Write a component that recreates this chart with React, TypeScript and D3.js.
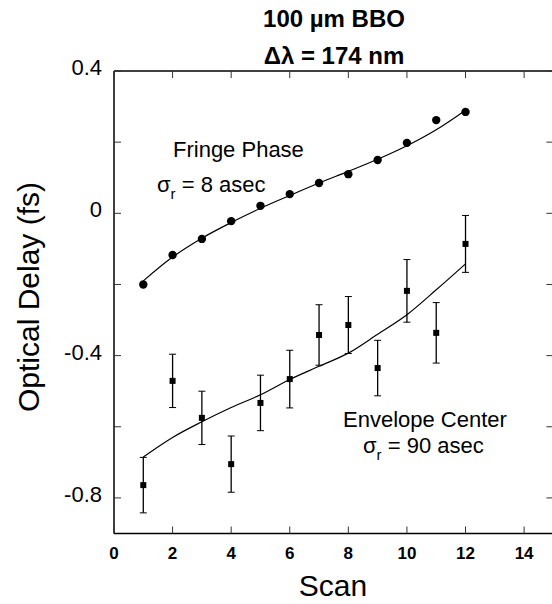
import React from "react";
import * as d3 from "d3";

const scans = [1, 2, 3, 4, 5, 6, 7, 8, 9, 10, 11, 12];
const fringePhase = [-0.2, -0.117, -0.072, -0.022, 0.021, 0.054, 0.085, 0.11, 0.15, 0.198, 0.262, 0.285];
const fringeFit = [-0.19, -0.123, -0.07, -0.026, 0.014, 0.05, 0.085, 0.118, 0.152, 0.19, 0.235, 0.29];
const envelopeCenter = [-0.764, -0.471, -0.575, -0.705, -0.533, -0.466, -0.342, -0.314, -0.435, -0.218, -0.336, -0.086];
const envelopeErr = [0.078, 0.075, 0.075, 0.079, 0.078, 0.081, 0.085, 0.08, 0.078, 0.088, 0.085, 0.08];
const envelopeFit = [-0.685, -0.63, -0.586, -0.546, -0.51, -0.467, -0.43, -0.393, -0.34, -0.285, -0.215, -0.142];
const xTicks = [0, 2, 4, 6, 8, 10, 12, 14];
const yTicks = [0.4, 0.2, 0, -0.2, -0.4, -0.6, -0.8];
const yLabelTicks = [0.4, 0, -0.4, -0.8];
const yLabelText = ["0.4", "0", "-0.4", "-0.8"];

const W = 552;
const H = 604;
const left = 114, right = 553.4, top = 71, bottom = 533.5;
const FONT = "'Liberation Sans', Arial, Helvetica, sans-serif";

export default function App() {
  const x = d3.scaleLinear().domain([0, 15]).range([left, right]);
  const y = d3.scaleLinear().domain([-0.9, 0.4]).range([bottom, top]);
  const line = d3
    .line<[number, number]>()
    .x((d) => x(d[0]))
    .y((d) => y(d[1]))
    .curve(d3.curveCatmullRom.alpha(0.5));
  const fringeFitPath = line(scans.map((s, i) => [s, fringeFit[i]]) as [number, number][]) || "";
  const envFitPath = line(scans.map((s, i) => [s, envelopeFit[i]]) as [number, number][]) || "";
  const tick = 7;

  return (
    <svg
      width={W}
      height={H}
      style={{ position: "absolute", left: 0, top: 0, background: "#fff" }}
      fontFamily={FONT}
    >
      <rect x={0} y={0} width={W} height={H} fill="#fff" />
      {/* title */}
      <text x={334} y={27} textAnchor="middle" fontSize={24} fontWeight="bold">
        100 µm BBO
      </text>
      <text x={334} y={64} textAnchor="middle" fontSize={24} fontWeight="bold">
        Δλ = 174 nm
      </text>
      {/* frame */}
      <g stroke="#000" strokeWidth={1.5} fill="none">
        <line x1={left} y1={top} x2={right} y2={top} />
        <line x1={left} y1={bottom} x2={right} y2={bottom} />
        <line x1={left} y1={top} x2={left} y2={bottom} />
        <line x1={right} y1={top} x2={right} y2={bottom} />
      </g>
      {/* ticks */}
      <g stroke="#333" strokeWidth={1}>
        {xTicks.map((t) => (
          <g key={"xt" + t}>
            <line x1={x(t)} x2={x(t)} y1={bottom} y2={bottom - tick} />
            <line x1={x(t)} x2={x(t)} y1={top} y2={top + tick} />
          </g>
        ))}
        {yTicks.map((t) => (
          <g key={"yt" + t}>
            <line x1={left} x2={left + tick} y1={y(t)} y2={y(t)} />
            <line x1={right} x2={right - tick} y1={y(t)} y2={y(t)} />
          </g>
        ))}
      </g>
      {/* tick labels */}
      {xTicks.map((t) => (
        <text key={"xl" + t} x={x(t)} y={559} textAnchor="middle" fontSize={17} fontWeight="bold">
          {t}
        </text>
      ))}
      {yLabelTicks.map((t, i) => (
        <text key={"yl" + t} x={102} y={y(t) + 4} textAnchor="end" fontSize={22}>
          {yLabelText[i]}
        </text>
      ))}
      {/* axis titles */}
      <text x={333} y={596} textAnchor="middle" fontSize={30}>
        Scan
      </text>
      <text
        transform={`translate(39, 297) rotate(-90)`}
        textAnchor="middle"
        fontSize={30}
      >
        Optical Delay (fs)
      </text>
      {/* fits */}
      <path d={fringeFitPath} fill="none" stroke="#000" strokeWidth={1.2} />
      <path d={envFitPath} fill="none" stroke="#000" strokeWidth={1.2} />
      {/* fringe points */}
      {scans.map((s, i) => (
        <circle key={"fp" + s} cx={x(s)} cy={y(fringePhase[i])} r={4.2} fill="#000" />
      ))}
      {/* envelope error bars & points */}
      {scans.map((s, i) => {
        const cx = x(s);
        const y1 = y(envelopeCenter[i] + envelopeErr[i]);
        const y2 = y(envelopeCenter[i] - envelopeErr[i]);
        return (
          <g key={"ec" + s}>
            <g stroke="#000" strokeWidth={1.3}>
              <line x1={cx} x2={cx} y1={y1} y2={y2} />
              <line x1={cx - 3.5} x2={cx + 3.5} y1={y1} y2={y1} strokeWidth={1} />
              <line x1={cx - 3.5} x2={cx + 3.5} y1={y2} y2={y2} strokeWidth={1} />
            </g>
            <rect x={cx - 3} y={y(envelopeCenter[i]) - 3} width={6} height={6} fill="#000" />
          </g>
        );
      })}
      {/* annotations */}
      <text x={173} y={157} fontSize={22}>
        Fringe Phase
      </text>
      <text x={157} y={192} fontSize={22}>
        σ
        <tspan fontSize={15} dy={7}>r</tspan>
        <tspan dy={-7}> = 8 asec</tspan>
      </text>
      <text x={343} y={427} fontSize={22}>
        Envelope Center
      </text>
      <text x={363} y={453} fontSize={22}>
        σ
        <tspan fontSize={15} dy={7}>r</tspan>
        <tspan dy={-7}> = 90 asec</tspan>
      </text>
    </svg>
  );
}
